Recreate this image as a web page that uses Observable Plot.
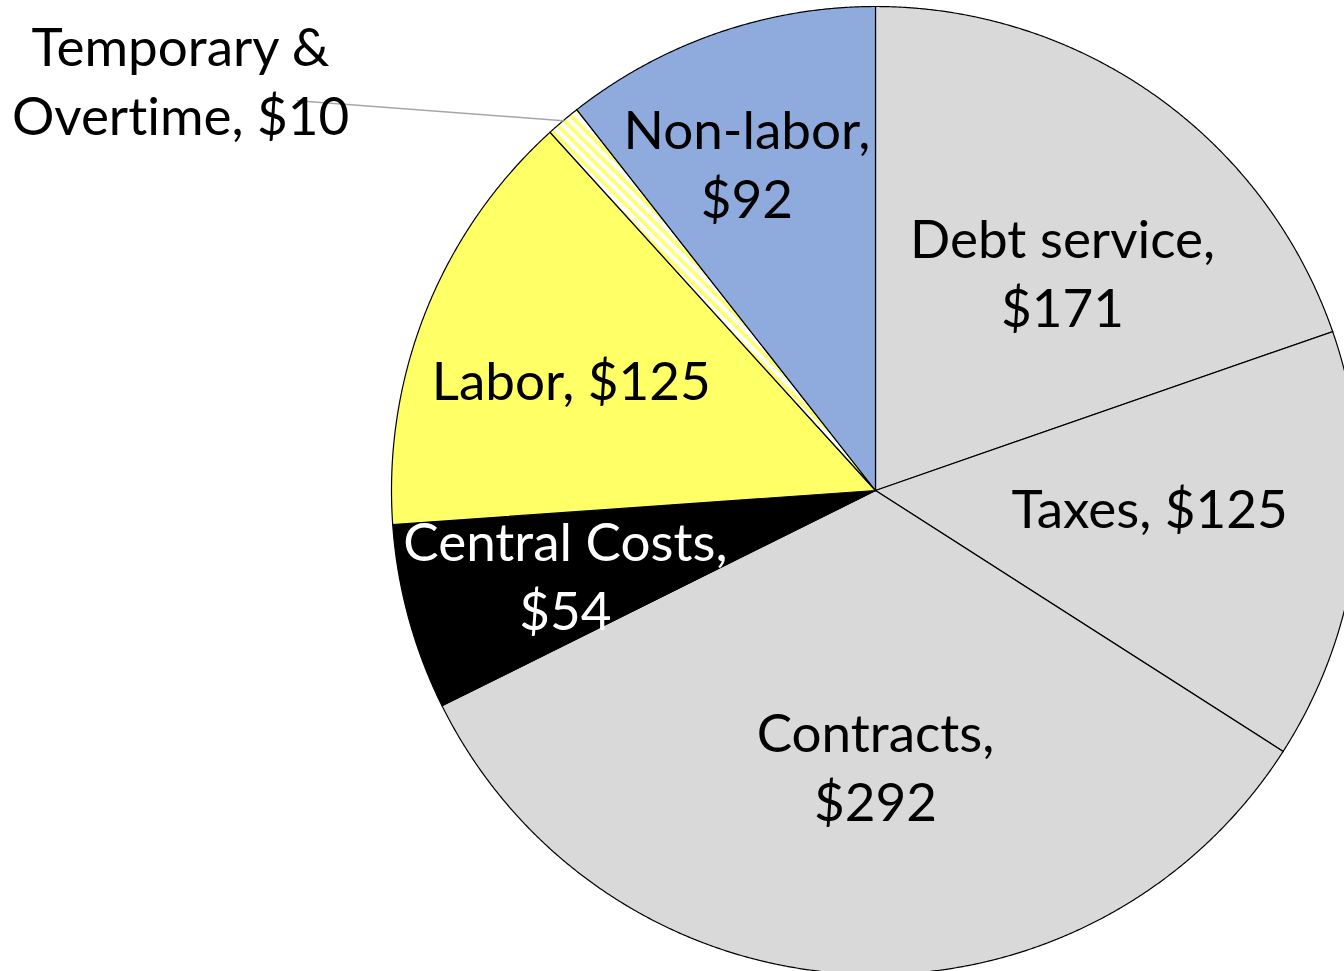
<!DOCTYPE html>
<html><head><meta charset="utf-8">
<script src="https://cdn.jsdelivr.net/npm/d3@7"></script>
<script src="https://cdn.jsdelivr.net/npm/@observablehq/plot@0.6"></script>
<style>
html,body{margin:0;padding:0;background:#fff;overflow:hidden}
svg text{font-variant-ligatures:none;font-feature-settings:"liga" 0,"clig" 0}
</style>
</head><body><div id="chart"></div>
<script>
// ---- data ----
const categories = ["Debt service", "Taxes", "Contracts", "Central Costs", "Labor", "Temporary & Overtime", "Non-labor"];
const values = [171, 125, 292, 54, 125, 10, 92];
const labels = ["Debt service,\n$171", "Taxes, $125", "Contracts,\n$292", "Central Costs,\n$54", "Labor, $125", "Temporary &\nOvertime, $10", "Non-labor,\n$92"];

// ---- styles / layout ----
const fills = ["#D9D9D9", "#D9D9D9", "#D9D9D9", "#000000", "#FFFF66", "url(#tempStripes)", "#8FAADC"];
const textColors = ["black", "black", "black", "white", "black", "black", "black"];
const labelAngleNudge = [5.6, -2.5, -3.1, -0.6, -2.3, -19.45, -2.6]; // degrees from slice mid-angle
const labelRadius = [0.589, 0.568, 0.576, 0.666, 0.667, 1.664, 0.72];  // fraction of pie radius
const leaderSlice = 5;            // Temporary & Overtime has an outside label
const leaderEnd = [304, 1.44];    // polar [deg, radius fraction] of the leader end

const rad = Math.PI / 180;
const polar = (a, r) => ({x: r * Math.sin(a), y: -r * Math.cos(a)});

const arcs = d3.pie().sort(null).value(d => d)(values);

const slicePoints = arcs.map((a, i) => {
  const n = Math.max(2, Math.ceil((a.endAngle - a.startAngle) / (0.2 * rad)) + 1);
  const pts = [{x: 0, y: 0}];
  for (let k = 0; k < n; k++) {
    const t = a.startAngle + (a.endAngle - a.startAngle) * k / (n - 1);
    pts.push(polar(t, 1));
  }
  pts.push({x: 0, y: 0});
  return pts.map(p => ({...p, category: categories[i]}));
});

const labelData = arcs.map((a, i) => {
  const mid = (a.startAngle + a.endAngle) / 2 + labelAngleNudge[i] * rad;
  return {...polar(mid, labelRadius[i]), text: labels[i], color: textColors[i]};
});

const lm = arcs[leaderSlice];
const leader = [polar((lm.startAngle + lm.endAngle) / 2, 1.0), polar(leaderEnd[0] * rad, leaderEnd[1])];

const R = 484, cx = 875, cy = 490;

const svg = Plot.plot({
  width: 1344,
  height: 971,
  margin: 0,
  x: {domain: [-1, 1], range: [cx - R, cx + R], axis: null},
  y: {domain: [-1, 1], range: [cy - R, cy + R], axis: null},
  style: {background: "white", overflow: "hidden"},
  marks: [
    ...slicePoints.map((pts, i) => Plot.line(pts, {
      x: "x", y: "y", fill: fills[i], stroke: "black", strokeWidth: 1.2,
      strokeLinejoin: "miter", strokeMiterlimit: 4, curve: "linear"
    })),
    Plot.line(leader, {x: "x", y: "y", stroke: "#A6A6A6", strokeWidth: 1.5}),
    Plot.text(labelData, {
      x: "x", y: "y", text: "text", fill: "color", dy: -5,
      fontSize: 53, fontFamily: "Lato", lineHeight: 1.3,
      textAnchor: "middle", lineAnchor: "middle"
    })
  ]
});

// striped pattern fill for the Temporary & Overtime slice
const defs = d3.select(svg).insert("defs", ":first-child");
const pat = defs.append("pattern").attr("id", "tempStripes")
  .attr("patternUnits", "userSpaceOnUse").attr("width", 8).attr("height", 8)
  .attr("patternTransform", "rotate(-45)");
pat.append("rect").attr("width", 8).attr("height", 8).attr("fill", "white");
pat.append("rect").attr("width", 3.5).attr("height", 8).attr("fill", "#FFFF66");

document.getElementById("chart").appendChild(svg);
</script>
</body></html>
